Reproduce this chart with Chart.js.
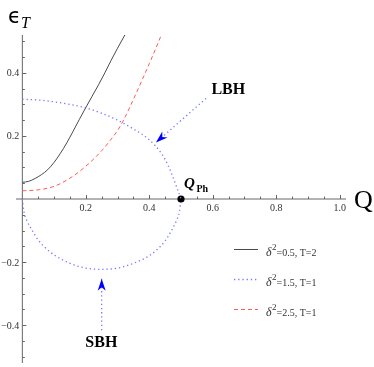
<!DOCTYPE html>
<html>
<head>
<meta charset="utf-8">
<script src="https://cdn.jsdelivr.net/npm/chart.js@4.4.0/dist/chart.umd.min.js"></script>
<style>
  html, body { margin: 0; padding: 0; background: #fff; }
  #wrap { width: 374px; height: 367px; }
</style>
</head>
<body>
<div id="wrap"><canvas id="chart" width="374" height="367"></canvas></div>
<script>
// epsilon_T against Q, three (delta^2, T) cases

const blackQ = [0, 0.02, 0.04, 0.06, 0.08, 0.10, 0.12, 0.14, 0.16, 0.18, 0.20, 0.22, 0.24, 0.26, 0.28, 0.30, 0.323];
const blackE = [0.053, 0.056, 0.065, 0.077, 0.093, 0.116, 0.145, 0.178, 0.215, 0.253, 0.29, 0.326, 0.362, 0.40, 0.44, 0.478, 0.52];

const redQ = [0, 0.05, 0.10, 0.15, 0.20, 0.25, 0.28, 0.30, 0.32, 0.34, 0.36, 0.38, 0.40, 0.42, 0.438];
const redE = [0.026, 0.029, 0.04, 0.066, 0.104, 0.153, 0.19, 0.217, 0.252, 0.294, 0.338, 0.383, 0.429, 0.476, 0.52];

// blue loop: upper branch (large black hole) and lower branch (small black hole)
const blueUpQ = [0, 0.05, 0.10, 0.15, 0.20, 0.25, 0.30, 0.35, 0.40, 0.44, 0.46, 0.48, 0.49, 0.5];
const blueUpE = [0.316, 0.314, 0.308, 0.30, 0.289, 0.272, 0.25, 0.222, 0.188, 0.142, 0.105, 0.055, 0.028, 0];
const blueLoQ = [0, 0.005, 0.015, 0.03, 0.05, 0.075, 0.10, 0.15, 0.20, 0.25, 0.30, 0.35, 0.40, 0.425, 0.45, 0.47, 0.485, 0.495, 0.5];
const blueLoE = [0, -0.04, -0.07, -0.098, -0.13, -0.157, -0.177, -0.204, -0.219, -0.223, -0.219, -0.204, -0.18, -0.16, -0.133, -0.1, -0.07, -0.04, 0];

const phQ = [0.5];
const phE = [0];

// annotation arrows (start -> tip)
const lbhQ = [0.579, 0.421];
const lbhE = [0.319, 0.179];
const sbhQ = [0.25, 0.25];
const sbhE = [-0.416, -0.253];

const xTicks = [0.2, 0.4, 0.6, 0.8, 1.0];
const yTicks = [-0.4, -0.2, 0.2, 0.4];
const legendDelta = ['0.5', '1.5', '2.5'];
const legendT = ['2', '1', '1'];

function pts(xs, ys) {
    return xs.map((x, i) => ({ x: x, y: ys[i] }));
}

const BLUE_DOT = { borderColor: '#7878ff', borderDash: [1.3, 2.9], borderWidth: 1.3 };

const axesPlugin = {
    id: 'axes',
    beforeDatasetsDraw(chart) {
        const ctx = chart.ctx;
        const area = chart.chartArea;
        const sx = chart.scales.x, sy = chart.scales.y;
        const x0 = sx.getPixelForValue(0), y0 = sy.getPixelForValue(0);
        ctx.save();
        ctx.strokeStyle = '#666';
        ctx.lineWidth = 1;
        ctx.beginPath();
        ctx.moveTo(area.left, y0); ctx.lineTo(area.right, y0);
        ctx.moveTo(x0, area.top); ctx.lineTo(x0, area.bottom);
        ctx.stroke();

        // tick marks every 0.05, major every 0.2
        ctx.beginPath();
        for (let i = 1; i <= 20; i++) {
            const v = i * 0.05;
            const len = (i % 4 === 0) ? 4 : 2.5;
            const px = Math.round(sx.getPixelForValue(v)) + 0.5;
            ctx.moveTo(px, y0); ctx.lineTo(px, y0 - len);
        }
        for (let i = -10; i <= 10; i++) {
            if (i === 0) continue;
            const v = i * 0.05;
            const len = (i % 4 === 0) ? 4 : 2.5;
            const py = Math.round(sy.getPixelForValue(v)) + 0.5;
            ctx.moveTo(x0, py); ctx.lineTo(x0 + len, py);
        }
        ctx.stroke();

        ctx.fillStyle = '#333';
        ctx.font = '10px "Liberation Serif"';
        ctx.textAlign = 'center';
        ctx.textBaseline = 'alphabetic';
        xTicks.forEach(v => {
            ctx.fillText(v.toFixed(1), sx.getPixelForValue(v), y0 + 12);
        });
        ctx.textAlign = 'right';
        yTicks.forEach(v => {
            const s = (v < 0 ? '\u2212' : '') + Math.abs(v).toFixed(1);
            ctx.fillText(s, x0 - 3, sy.getPixelForValue(v) + 3.5);
        });

        // axis titles
        ctx.fillStyle = '#000';
        ctx.textAlign = 'left';
        ctx.font = '21px "DejaVu Sans"';
        ctx.fillText('\u03F5', 8, 23);
        ctx.font = 'italic 16px "Liberation Serif"';
        ctx.fillText('T', 21, 28);
        ctx.font = '26px "Liberation Serif"';
        ctx.fillText('Q', 354, 208);
        ctx.restore();
    }
};

function arrowHead(ctx, a, b) {
    const ang = Math.atan2(b.y - a.y, b.x - a.x);
    ctx.save();
    ctx.translate(b.x, b.y);
    ctx.rotate(ang);
    ctx.beginPath();
    ctx.moveTo(0, 0);
    ctx.lineTo(-12, -4);
    ctx.lineTo(-8.5, 0);
    ctx.lineTo(-12, 4);
    ctx.closePath();
    ctx.fillStyle = '#0000ff';
    ctx.fill();
    ctx.restore();
}

const notesPlugin = {
    id: 'notes',
    afterDatasetsDraw(chart) {
        const ctx = chart.ctx;
        const sx = chart.scales.x, sy = chart.scales.y;
        ctx.save();

        // arrow heads on the two annotation lines
        [4, 5].forEach(i => {
            const d = chart.getDatasetMeta(i).data;
            arrowHead(ctx, d[0], d[1]);
        });

        ctx.fillStyle = '#000';
        ctx.textAlign = 'center';
        ctx.font = 'bold 16px "Liberation Serif"';
        ctx.fillText('LBH', sx.getPixelForValue(0.649), sy.getPixelForValue(0.332));
        ctx.fillText('SBH', sx.getPixelForValue(0.249), sy.getPixelForValue(-0.469));

        // Q_Ph label next to the point
        const p = chart.getDatasetMeta(3).data[0];
        ctx.textAlign = 'left';
        ctx.font = 'bold italic 15px "Liberation Serif"';
        ctx.fillText('Q', p.x + 3, p.y - 11.5);
        ctx.font = 'bold 10px "Liberation Serif"';
        ctx.fillText('Ph', p.x + 15.5, p.y - 7.5);

        // legend
        const lineY = [249.5, 279.5, 309.5];
        [0, 1, 2].forEach((di, r) => {
            const ds = chart.data.datasets[di];
            const y = lineY[r];
            ctx.save();
            ctx.strokeStyle = ds.borderColor;
            ctx.lineWidth = ds.borderWidth;
            ctx.setLineDash(ds.borderDash || []);
            ctx.beginPath();
            ctx.moveTo(234, y); ctx.lineTo(258, y);
            ctx.stroke();
            ctx.restore();

            ctx.fillStyle = '#333';
            let x = 266;
            ctx.font = 'italic 12px "Liberation Serif"';
            ctx.fillText('\u03B4', x, y + 6);
            x += ctx.measureText('\u03B4').width + 0.5;
            ctx.font = '9px "Liberation Serif"';
            ctx.fillText('2', x, y + 0.5);
            x += ctx.measureText('2').width;
            ctx.font = '10px "Liberation Serif"';
            ctx.fillText('=' + legendDelta[r] + ', T=' + legendT[r], x, y + 6);
        });
        ctx.restore();
    }
};

new Chart(document.getElementById('chart'), {
    type: 'scatter',
    data: {
        datasets: [
            {
                label: 'delta2=0.5, T=2',
                data: pts(blackQ, blackE),
                showLine: true,
                borderColor: '#4a4a4a',
                borderWidth: 1,
                cubicInterpolationMode: 'monotone'
            },
            Object.assign({
                label: 'delta2=1.5, T=1',
                data: pts(blueUpQ, blueUpE),
                showLine: true,
                cubicInterpolationMode: 'monotone'
            }, BLUE_DOT),
            {
                label: 'delta2=2.5, T=1',
                data: pts(redQ, redE),
                showLine: true,
                borderColor: '#ff5a5a',
                borderDash: [4, 3],
                borderWidth: 1,
                cubicInterpolationMode: 'monotone'
            },
            {
                label: 'Q_Ph',
                data: pts(phQ, phE),
                pointRadius: 3.6,
                pointBackgroundColor: '#000',
                pointBorderWidth: 0
            },
            Object.assign({ label: 'LBH', data: pts(lbhQ, lbhE), showLine: true }, BLUE_DOT),
            Object.assign({ label: 'SBH', data: pts(sbhQ, sbhE), showLine: true }, BLUE_DOT),
            Object.assign({
                label: 'delta2=1.5, T=1 (lower)',
                data: pts(blueLoQ, blueLoE),
                showLine: true,
                cubicInterpolationMode: 'monotone'
            }, BLUE_DOT)
        ]
    },
    options: {
        responsive: false,
        animation: false,
        layout: { padding: { left: 16, right: 28, top: 35, bottom: 3 } },
        scales: {
            x: { type: 'linear', display: false, min: -0.02, max: 1.02 },
            y: { type: 'linear', display: false, min: -0.52, max: 0.52 }
        },
        elements: { point: { radius: 0 } },
        plugins: {
            legend: { display: false },
            tooltip: { enabled: false }
        }
    },
    plugins: [axesPlugin, notesPlugin]
});
</script>
</body>
</html>
